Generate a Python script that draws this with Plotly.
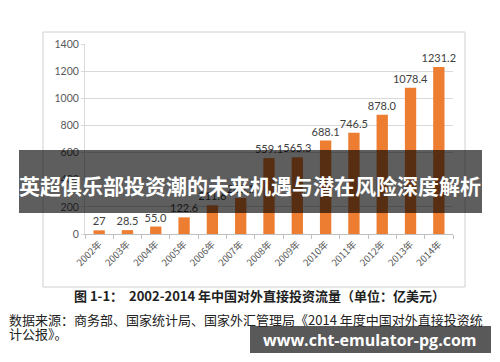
import plotly.graph_objects as go

years = ["2002年", "2003年", "2004年", "2005年", "2006年", "2007年", "2008年",
         "2009年", "2010年", "2011年", "2012年", "2013年", "2014年"]
values = [27, 28.5, 55.0, 122.6, 211.6, 265.1, 559.1, 565.3, 688.1, 746.5, 878.0, 1078.4, 1231.2]
labels = ["27", "28.5", "55.0", "122.6", "211.6", "265.1", "559.1", "565.3",
          "688.1", "746.5", "878.0", "1078.4", "1231.2"]
y_ticks = [0, 200, 400, 600, 800, 1000, 1200, 1400]

# the page body has a default 8px margin, so the figure is drawn 8px in
OFF = 8
W, H = 500 - OFF, 362 - OFF
L, R, T, B = 85 - OFF, 453 - OFF, 44 - OFF, 234 - OFF  # plot area in figure pixels


def px(x):
    return (x - OFF - L) / (R - L)


def py(y):
    return (B - (y - OFF)) / (B - T)


CJK = "Noto Sans CJK SC"
NUM = "Lato"

fig = go.Figure()
fig.add_trace(go.Bar(
    x=years, y=values, text=labels, textposition="outside",
    textfont=dict(family=NUM, size=11, color="#404040"),
    constraintext="none",
    marker=dict(color="#ED7D31", line=dict(width=0)),
    cliponaxis=False, width=0.4,
))

fig.update_layout(
    width=W, height=H,
    margin=dict(l=L, r=W - R, t=T, b=H - B),
    paper_bgcolor="white", plot_bgcolor="white",
    showlegend=False,
    xaxis=dict(
        tickangle=-45, tickfont=dict(family=CJK, size=9.5, color="#595959"),
        showline=True, linecolor="#bfbfbf", linewidth=1,
        ticks="outside", tickson="boundaries", ticklen=4, tickcolor="#bfbfbf",
        showgrid=False, range=[-0.5, 12.5], automargin=False,
    ),
    yaxis=dict(
        range=[0, 1400], tickvals=y_ticks, automargin=False,
        tickfont=dict(family=NUM, size=10.5, color="#595959"),
        showgrid=True, gridcolor="#d9d9d9", gridwidth=1,
        showline=True, linecolor="#d9d9d9", linewidth=1,
        ticks="outside", ticklen=3, tickcolor="#d9d9d9",
        zeroline=False,
    ),
    shapes=[
        dict(type="rect", xref="paper", yref="paper",
             x0=px(43), x1=px(465), y0=py(287), y1=py(32),
             line=dict(color="#d0d0d0", width=1), fillcolor="rgba(0,0,0,0)", layer="below"),
        dict(type="rect", xref="paper", yref="paper",
             x0=px(19), x1=px(482), y0=py(213), y1=py(150),
             line=dict(width=0), fillcolor="rgba(0,0,0,0.63)", layer="above"),
        dict(type="rect", xref="paper", yref="paper",
             x0=px(250), x1=px(491), y0=py(353), y1=py(326),
             line=dict(width=0), fillcolor="rgba(0,0,0,0.65)", layer="above"),
    ],
    annotations=[
        dict(text="<b>英超俱乐部投资潮的未来机遇与潜在风险深度解析</b>",
             xref="paper", yref="paper", x=px(250), y=py(185),
             xanchor="center", yanchor="middle", showarrow=False,
             font=dict(family=CJK, size=21, color="white")),
        dict(text="<b>图 1-1：  2002-2014 年中国对外直接投资流量（单位：亿美元）</b>",
             xref="paper", yref="paper", x=px(259), y=py(295),
             xanchor="center", yanchor="middle", showarrow=False,
             font=dict(family=CJK, size=13, color="#222222")),
        dict(text="数据来源：商务部、国家统计局、国家外汇管理局《2014 年度中国对外直接投资统",
             xref="paper", yref="paper", x=px(7), y=py(319),
             xanchor="left", yanchor="middle", showarrow=False,
             font=dict(family=CJK, size=13, color="#222222")),
        dict(text="计公报》。",
             xref="paper", yref="paper", x=px(7), y=py(333),
             xanchor="left", yanchor="middle", showarrow=False,
             font=dict(family=CJK, size=13, color="#222222")),
        dict(text="<b>www.cht-emulator-pg.com</b>",
             xref="paper", yref="paper", x=px(370), y=py(339.5),
             xanchor="center", yanchor="middle", showarrow=False,
             font=dict(family="Open Sans", size=16, color="white")),
    ],
)

fig.write_html("out.html")
